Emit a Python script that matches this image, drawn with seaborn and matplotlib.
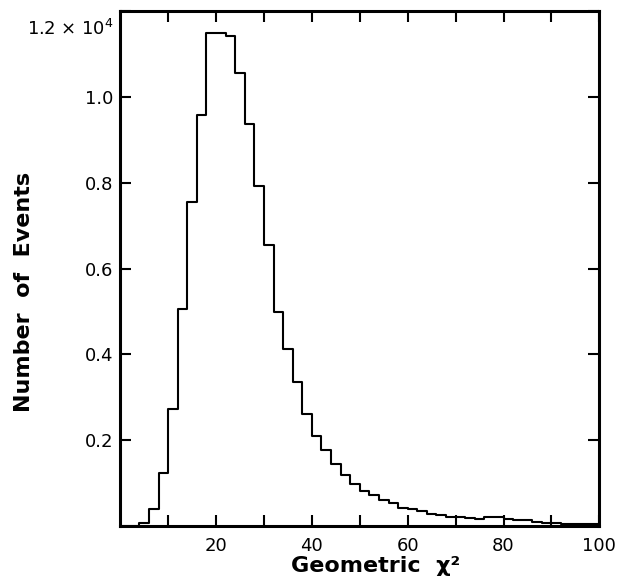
import numpy as np
import pandas as pd
import seaborn as sns
import matplotlib
matplotlib.use("Agg")
import matplotlib.pyplot as plt
from matplotlib.transforms import ScaledTranslation

# bins of width 2 in chi^2, counts
bin_edges = list(range(0, 102, 2))
counts = [
    0, 0, 75, 390, 1240, 2740, 5060, 7550, 9580, 11500,
    11500, 11430, 10550, 9380, 7930, 6560, 4990, 4120, 3360, 2620,
    2090, 1780, 1440, 1200, 980, 830, 715, 605, 540, 420,
    390, 355, 280, 255, 220, 205, 200, 175, 210, 215,
    160, 155, 150, 90, 85, 75, 50, 45, 45, 45,
]
x_ticks = [10, 20, 30, 40, 50, 60, 70, 80, 90, 100]
x_labels = ["", "20", "", "40", "", "60", "", "80", "", "100"]
y_ticks = [2000, 4000, 6000, 8000, 10000, 12000]
y_labels = ["0.2", "0.4", "0.6", "0.8", "1.0", r"1.2 $\times$ 10$^4$"]

sns.set_style("ticks")
plt.rcParams["font.family"] = ["DejaVu Sans"]
plt.rcParams["axes.labelcolor"] = "black"

df = pd.DataFrame({"chi2": np.array(bin_edges[:-1]) + 1, "n": counts})

fig = plt.figure(figsize=(6.23, 5.84), dpi=100)
ax = fig.add_axes([0.193, 0.099, 0.769, 0.882])

sns.histplot(
    data=df,
    x="chi2",
    weights="n",
    bins=bin_edges,
    element="step",
    fill=False,
    color="black",
    linewidth=1.5,
    ax=ax,
)

ax.set_xlim(0, 100)
ax.set_ylim(0, 12000)
ax.set_xticks(x_ticks)
ax.set_xticklabels(x_labels)
ax.set_yticks(y_ticks)
ax.set_yticklabels(y_labels)
ax.tick_params(direction="in", length=8, width=1.5, top=True, right=True,
               labelsize=13, colors="black")
ax.tick_params(axis="y", pad=5)
ax.tick_params(axis="x", pad=8)
for s in ax.spines.values():
    s.set_linewidth(2.2)
    s.set_color("black")

# the top label sits below its tick in the original
top_lbl = ax.get_yticklabels()[-1]
top_lbl.set_transform(top_lbl.get_transform()
                      + ScaledTranslation(0, -0.16, fig.dpi_scale_trans))

ax.set_xlabel("Geometric  χ²", fontsize=16, fontweight="bold")
ax.xaxis.set_label_coords(0.534, -0.058)
ax.set_ylabel("Number  of  Events", fontsize=16, fontweight="bold")
ax.yaxis.set_label_coords(-0.179, 0.454)

fig.savefig("out.png", dpi=100)
